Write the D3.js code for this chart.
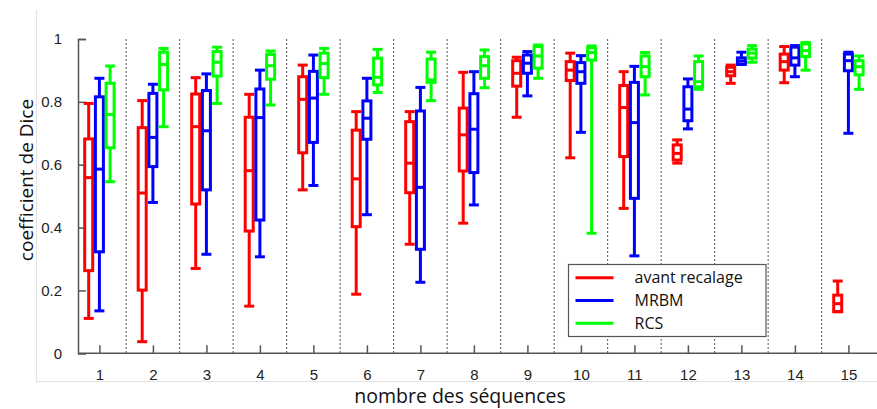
<!DOCTYPE html>
<html>
<head>
<meta charset="utf-8">
<script src="https://cdn.jsdelivr.net/npm/d3@7"></script>
<style>
  body { margin: 0; background: #fff; }
  svg { display: block; }
</style>
</head>
<body>
<svg id="chart" width="877" height="409"></svg>
<script>
// number of sequences on the x axis
const sequences = d3.range(1, 16);
const yTicks = [0, 0.2, 0.4, 0.6, 0.8, 1];

// box stats per sequence: [min, q1, median, q3, max]
const avantRecalage = [
  [0.111, 0.263, 0.559, 0.682, 0.795],
  [0.037, 0.201, 0.510, 0.718, 0.804],
  [0.270, 0.475, 0.721, 0.825, 0.877],
  [0.150, 0.389, 0.581, 0.751, 0.824],
  [0.520, 0.638, 0.808, 0.880, 0.917],
  [0.188, 0.403, 0.555, 0.710, 0.769],
  [0.347, 0.511, 0.605, 0.737, 0.769],
  [0.414, 0.580, 0.695, 0.780, 0.894],
  [0.751, 0.850, 0.891, 0.931, 0.942],
  [0.622, 0.868, 0.901, 0.928, 0.955],
  [0.461, 0.626, 0.782, 0.852, 0.896],
  [0.605, 0.615, 0.636, 0.663, 0.679],
  [0.859, 0.883, 0.896, 0.910, 0.917],
  [0.861, 0.901, 0.928, 0.952, 0.976],
  [0.132, 0.133, 0.158, 0.185, 0.230]
];
const mrbm = [
  [0.135, 0.323, 0.586, 0.816, 0.875],
  [0.480, 0.594, 0.687, 0.827, 0.856],
  [0.315, 0.520, 0.708, 0.836, 0.889],
  [0.307, 0.424, 0.750, 0.841, 0.901],
  [0.534, 0.671, 0.812, 0.897, 0.949],
  [0.441, 0.681, 0.748, 0.803, 0.875],
  [0.226, 0.331, 0.528, 0.771, 0.846],
  [0.472, 0.575, 0.713, 0.826, 0.896],
  [0.819, 0.891, 0.923, 0.949, 0.960],
  [0.703, 0.859, 0.896, 0.925, 0.947],
  [0.310, 0.493, 0.734, 0.862, 0.913],
  [0.714, 0.740, 0.777, 0.848, 0.873],
  [0.919, 0.920, 0.930, 0.940, 0.958],
  [0.880, 0.917, 0.940, 0.974, 0.979],
  [0.700, 0.899, 0.931, 0.952, 0.958]
];
const rcs = [
  [0.546, 0.654, 0.760, 0.859, 0.914],
  [0.721, 0.838, 0.919, 0.958, 0.970],
  [0.795, 0.882, 0.926, 0.960, 0.974],
  [0.790, 0.872, 0.915, 0.951, 0.962],
  [0.824, 0.877, 0.922, 0.955, 0.970],
  [0.830, 0.854, 0.878, 0.939, 0.967],
  [0.804, 0.862, 0.870, 0.936, 0.958],
  [0.845, 0.875, 0.915, 0.944, 0.965],
  [0.875, 0.907, 0.946, 0.976, 0.981],
  [0.382, 0.933, 0.957, 0.972, 0.978],
  [0.822, 0.880, 0.912, 0.946, 0.957],
  [0.840, 0.848, 0.864, 0.928, 0.946],
  [0.926, 0.939, 0.955, 0.968, 0.979],
  [0.901, 0.944, 0.963, 0.984, 0.989],
  [0.840, 0.886, 0.912, 0.931, 0.946]
];

const seriesNames = ["avant recalage", "MRBM", "RCS"];
const seriesColors = ["#ff0000", "#0000ff", "#00ff00"];
const seriesData = [avantRecalage, mrbm, rcs];
const seriesOffset = [-0.2, 0, 0.2];

const svg = d3.select("#chart");

const x = d3.scaleLinear().domain([0.6, 15.6]).range([78, 880.5]);
const y = d3.scaleLinear().domain([0, 1]).range([353.3, 39]);

// faint frame of the original figure
svg.append("path")
  .attr("d", `M36.5,10V381.5H877`)
  .attr("fill", "none")
  .attr("stroke", "#e3e3e3")
  .attr("stroke-width", 1.2);

// dotted separators between sequence groups
svg.append("g")
  .selectAll("line")
  .data(sequences.slice(0, -1))
  .join("line")
  .attr("x1", (d) => x(d + 0.5))
  .attr("x2", (d) => x(d + 0.5))
  .attr("y1", y(1))
  .attr("y2", y(0))
  .attr("stroke", "#555")
  .attr("stroke-width", 1)
  .attr("stroke-dasharray", "2,2");

// axes
const axisColor = "#555";
const yAxis = svg.append("g")
  .attr("transform", `translate(${x(0.6)},0)`)
  .call(d3.axisLeft(y).tickValues(yTicks).tickSize(-8).tickPadding(16)
    .tickFormat((d) => d === 0 || d === 1 ? d3.format("d")(d) : d3.format(".1f")(d)));

const xAxis = svg.append("g")
  .attr("transform", `translate(0,${y(0)})`)
  .call(d3.axisBottom(x).tickValues(sequences).tickSize(-8).tickPadding(16).tickFormat(d3.format("d")));

[yAxis, xAxis].forEach((g) => {
  g.select(".domain").attr("stroke", axisColor).attr("stroke-width", 1.5);
  g.selectAll(".tick line").attr("stroke", axisColor).attr("stroke-width", 1.5);
  g.selectAll(".tick text")
    .attr("fill", "#222")
    .style("font-family", "'Liberation Sans', Arial, sans-serif")
    .style("font-size", "15px");
});
xAxis.select(".domain").attr("d", `M${x(0.6)},0H877`);
xAxis.selectAll(".tick text").attr("dy", "0.71em");

// box plots
const boxW = 8;
const capW = 10;
seriesData.forEach((rows, si) => {
  const color = seriesColors[si];
  const g = svg.append("g")
    .attr("stroke", color)
    .attr("stroke-width", 3)
    .attr("fill", "none");

  const grp = g.selectAll("g")
    .data(rows.map((r, i) => ({ seq: sequences[i], v: r })))
    .join("g")
    .attr("transform", (d) => `translate(${x(d.seq + seriesOffset[si])},0)`);

  // whiskers
  grp.append("line")
    .attr("x1", 0).attr("x2", 0)
    .attr("y1", (d) => y(d.v[0])).attr("y2", (d) => y(d.v[1]));
  grp.append("line")
    .attr("x1", 0).attr("x2", 0)
    .attr("y1", (d) => y(d.v[3])).attr("y2", (d) => y(d.v[4]));
  // caps
  grp.append("line")
    .attr("x1", -capW / 2).attr("x2", capW / 2)
    .attr("y1", (d) => y(d.v[0])).attr("y2", (d) => y(d.v[0]));
  grp.append("line")
    .attr("x1", -capW / 2).attr("x2", capW / 2)
    .attr("y1", (d) => y(d.v[4])).attr("y2", (d) => y(d.v[4]));
  // box
  grp.append("rect")
    .attr("x", -boxW / 2)
    .attr("width", boxW)
    .attr("y", (d) => y(d.v[3]))
    .attr("height", (d) => Math.max(0.5, y(d.v[1]) - y(d.v[3])))
    .attr("fill", "#fff");
  // median
  grp.append("line")
    .attr("x1", -boxW / 2).attr("x2", boxW / 2)
    .attr("y1", (d) => y(d.v[2])).attr("y2", (d) => y(d.v[2]));
});

// axis titles
svg.append("text")
  .attr("transform", `translate(33,180) rotate(-90)`)
  .attr("text-anchor", "middle")
  .style("font-family", "'Open Sans', sans-serif")
  .style("font-size", "19px")
  .attr("fill", "#111")
  .text("coefficient de Dice");

svg.append("text")
  .attr("x", 460)
  .attr("y", 403)
  .attr("text-anchor", "middle")
  .style("font-family", "'Open Sans', sans-serif")
  .style("font-size", "19.5px")
  .attr("fill", "#111")
  .text("nombre des séquences");

// legend
const legend = svg.append("g").attr("transform", "translate(568.5,264.5)");
legend.append("rect")
  .attr("width", 197.5)
  .attr("height", 72)
  .attr("fill", "#fff")
  .attr("stroke", "#555")
  .attr("stroke-width", 1.2);
const item = legend.selectAll("g.item")
  .data(seriesNames)
  .join("g")
  .attr("class", "item")
  .attr("transform", (d, i) => `translate(0,${13.2 + i * 22.8})`);
item.append("line")
  .attr("x1", 7).attr("x2", 45)
  .attr("stroke", (d, i) => seriesColors[i])
  .attr("stroke-width", 3);
item.append("text")
  .attr("x", 66)
  .attr("dy", "0.35em")
  .style("font-family", "'Open Sans', sans-serif")
  .style("font-size", "16px")
  .attr("fill", "#111")
  .text((d) => d);
</script>
</body>
</html>
